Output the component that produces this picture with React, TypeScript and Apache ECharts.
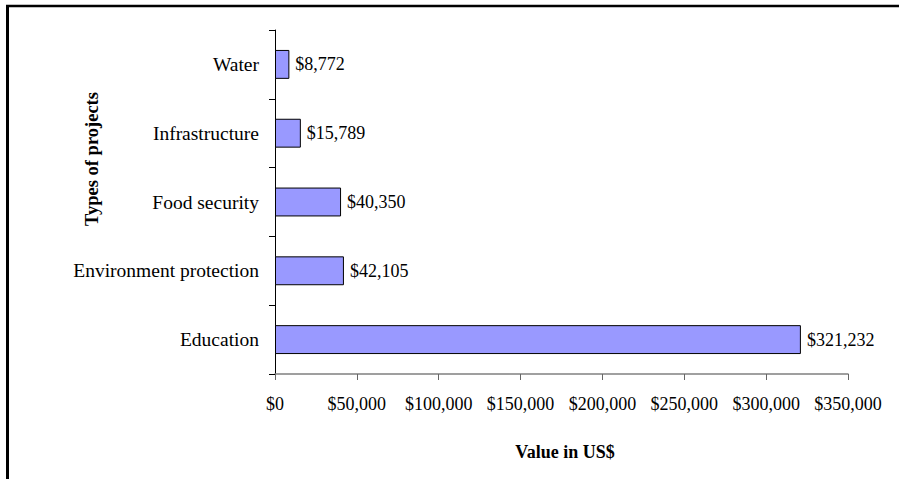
import React, { useEffect, useRef } from "react";
import * as echarts from "echarts";

const categories = ["Education", "Environment protection", "Food security", "Infrastructure", "Water"];
const values = [321232, 42105, 40350, 15789, 8772];
const xTicks = [0, 50000, 100000, 150000, 200000, 250000, 300000, 350000];
const xTitle = "Value in US$";
const yTitle = "Types of projects";

const FONT = "'Liberation Serif', 'Times New Roman', serif";
const fmt = (v: number) => "$" + v.toLocaleString("en-US");

export default function App() {
  const ref = useRef<HTMLDivElement>(null);
  useEffect(() => {
    if (!ref.current) return;
    const chart = echarts.init(ref.current, undefined, { renderer: "svg" });
    chart.setOption({
      animation: false,
      backgroundColor: "#ffffff",
      grid: { left: 275, right: 51, top: 30, bottom: 105, outerBoundsMode: "none", containLabel: false },
      xAxis: {
        type: "value",
        min: xTicks[0],
        max: xTicks[xTicks.length - 1],
        interval: xTicks[1] - xTicks[0],
        splitLine: { show: false },
        axisLine: { show: true, lineStyle: { color: "#808080", width: 1.5 } },
        axisTick: { show: true, length: 6, lineStyle: { color: "#666" } },
        axisLabel: { formatter: (v: number) => fmt(v), color: "#000", fontFamily: FONT, fontSize: 18, margin: 21 },
      },
      yAxis: {
        type: "category",
        data: categories,
        axisLine: { show: true, lineStyle: { color: "#000", width: 1 } },
        axisTick: { show: true, length: 6, alignWithLabel: false, lineStyle: { color: "#000" } },
        axisLabel: { color: "#000", fontFamily: FONT, fontSize: 19.5, margin: 16 },
        splitLine: { show: false },
      },
      series: [
        {
          type: "bar",
          data: values,
          barCategoryGap: "58%",
          itemStyle: { color: "#9999FF", borderColor: "#000", borderWidth: 1 },
          label: {
            show: true,
            position: "right",
            distance: 6,
            formatter: (p: any) => fmt(p.value),
            color: "#000",
            fontFamily: FONT,
            fontSize: 18,
          },
        },
      ],
      graphic: [
        { type: "line", shape: { x1: 6, y1: 6, x2: 899, y2: 6 }, style: { stroke: "#000", lineWidth: 2.5 } },
        { type: "line", shape: { x1: 7.5, y1: 5, x2: 7.5, y2: 479 }, style: { stroke: "#000", lineWidth: 3 } },
        {
          type: "text",
          x: 565,
          y: 452,
          style: { text: xTitle, textAlign: "center", textVerticalAlign: "middle", font: `bold 18px ${FONT}`, fill: "#000" },
        },
        {
          type: "text",
          x: 92,
          y: 159,
          rotation: Math.PI / 2,
          style: { text: yTitle, textAlign: "center", textVerticalAlign: "middle", font: `bold 18.5px ${FONT}`, fill: "#000" },
        },
      ],
    });
    return () => chart.dispose();
  }, []);
  return <div ref={ref} style={{ position: "absolute", left: 0, top: 0, width: 899, height: 479 }} />;
}
